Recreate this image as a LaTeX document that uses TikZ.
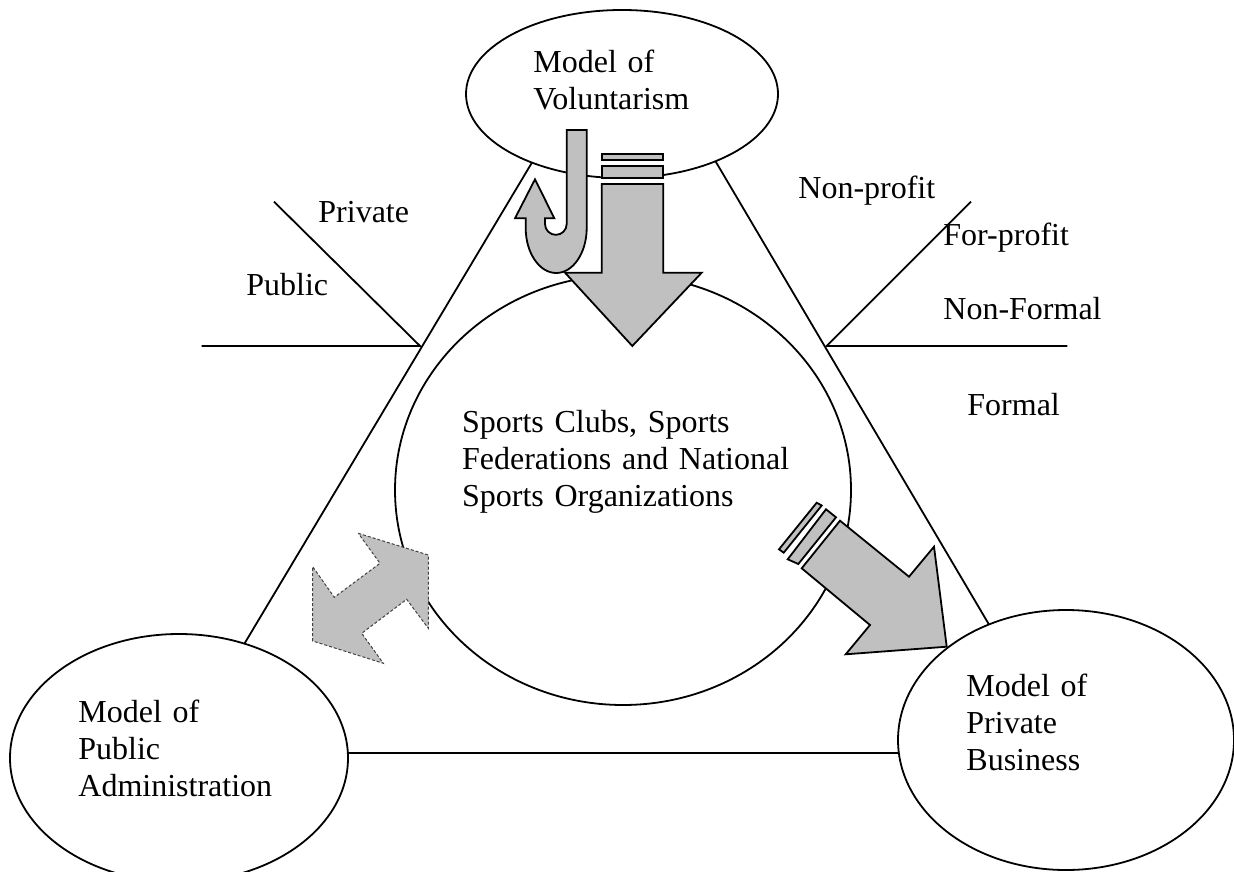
\documentclass[tikz,border=0pt]{standalone}
\usepackage{fontspec}
\setmainfont{Liberation Serif}
\usetikzlibrary{shapes.geometric}
\definecolor{arrowgray}{RGB}{192,192,192}
\begin{document}
\begin{tikzpicture}[x=0.5pt,y=-0.5pt,
  edgeline/.style={line width=0.9pt, line join=miter},
  model/.style={draw, ellipse, fill=white, line width=0.9pt, inner sep=0pt, outer sep=0pt},
  tag/.style={anchor=base west, inner sep=0pt, font=\fontsize{16}{18.5}\selectfont},
  block/.style={tag, text width=200pt, align=left},
  solidarrow/.style={draw, fill=arrowgray, line width=0.9pt, line join=miter},
  dashedarrow/.style={draw=black!75, fill=arrowgray, line width=0.5pt, dash pattern=on 1.5pt off 1pt}]
\useasboundingbox (0,0) rectangle (1234,871);

% triangle joining the three models (ends hidden under the ellipses)
\coordinate (triTop1) at (611.2,30);
\coordinate (triTop2) at (638,30);
\coordinate (triLeft) at (178.9,753.3);
\coordinate (triRight) at (1065,753.3);
\draw[edgeline] (triTop1) -- (triLeft);
\draw[edgeline] (triTop2) -- (triRight);
\draw[edgeline] (triLeft) -- (triRight);

% public / private divider
\coordinate (pubV) at (420,346);
\coordinate (pubA) at (274,201.7);
\coordinate (pubB) at (201.7,346);
\draw[edgeline] (pubA) -- (pubV) -- (pubB);

% profit / formality divider
\coordinate (prfV) at (826.7,346);
\coordinate (prfA) at (971,201.7);
\coordinate (prfB) at (1067.3,346);
\draw[edgeline] (prfA) -- (prfV) -- (prfB);

% the three models and the central organizations
\node[model, minimum width=156pt, minimum height=84pt] (volunt) at (622,94) {};
\node[model, minimum width=169pt, minimum height=124pt] (public) at (179,758) {};
\node[model, minimum width=168pt, minimum height=130pt] (business) at (1066,740) {};
\node[model, minimum width=228pt, minimum height=215pt] (clubs) at (623,490) {};

% downward block arrow with two bars
\draw[solidarrow] (601.7,154) rectangle (663.3,160);
\draw[solidarrow] (601.7,166) rectangle (663.3,178.3);
\draw[solidarrow] (601.7,184) -- (663.3,184) -- (663.3,272.7) -- (701.7,272.7)
  -- (632.3,346) -- (565,272.7) -- (601.7,272.7) -- cycle;

% U-turn arrow
\draw[solidarrow] (566.7,130) -- (586.7,130) -- (586.7,228)
  .. controls (586.7,252.85) and (573.05,273) .. (556.2,273)
  .. controls (539.35,273) and (525.7,252.85) .. (525.7,228)
  -- (525.7,218.3) -- (515,218.3) -- (535,179.3) -- (554.3,218.3) -- (545,218.3) -- (545,224)
  .. controls (545,229.99) and (549.86,234.85) .. (555.85,234.85)
  .. controls (561.84,234.85) and (566.7,229.99) .. (566.7,224) -- cycle;

% diagonal block arrow with two bars
\draw[solidarrow] (779,549.3) -- (816.7,502.7) -- (821.7,505.5) -- (783.7,552.7) -- cycle;
\draw[solidarrow] (787.7,559.3) -- (826,509.3) -- (836,517.3) -- (798.3,564) -- cycle;
\draw[solidarrow] (801.7,568.3) -- (840,520.7) -- (909,576.7) -- (934,546.7)
  -- (946.7,646.7) -- (845.7,654.3) -- (870,625) -- cycle;

% two-headed dashed arrow
\draw[dashedarrow] (358.3,533.3) -- (428.3,555) -- (428.3,628.3) -- (406.7,599.3)
  -- (361.7,633.3) -- (383.3,663.3) -- (312.7,641) -- (312.7,566.7)
  -- (334.3,597.3) -- (380,563.3) -- cycle;

% texts
\node[block] (voltext) at (533,72.7) {Model of\\Voluntarism};
\node[block] (pubtext) at (78,722.7) {Model of\\Public\\Administration};
\node[block] (bustext) at (966,696.7) {Model of\\Private\\Business};
\node[block] (clubtext) at (461.7,432.7) {Sports Clubs, Sports\\Federations and National\\Sports Organizations};

\node[tag] (lblprivate) at (318,222.7) {Private};
\node[tag] (lblpublic) at (246,295) {Public};
\node[tag] (lblnonprofit) at (798,199) {Non-profit};
\node[tag] (lblforprofit) at (943,246) {For-profit};
\node[tag] (lblnonformal) at (943,319) {Non-Formal};
\node[tag] (lblformal) at (967,415) {Formal};
\end{tikzpicture}
\end{document}
